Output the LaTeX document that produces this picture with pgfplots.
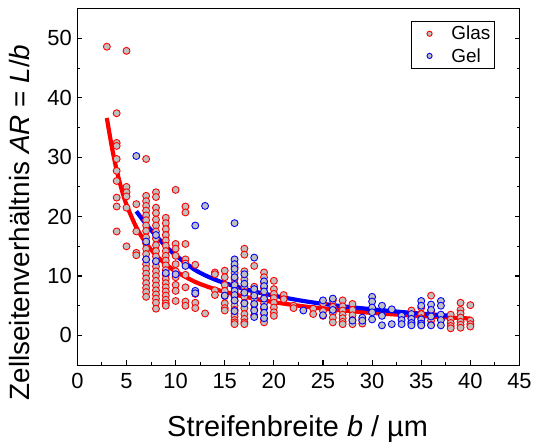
\documentclass[border=0pt]{standalone}
\usepackage{pgfplots}
\pgfplotsset{compat=1.18}
\usepackage{fontspec}
\setmainfont{Liberation Sans}
\definecolor{mfill}{RGB}{192,192,192}
\begin{document}
\begin{tikzpicture}
\begin{axis}[
  scale only axis, width=444pt, height=358pt,
  xmin=0, xmax=45, ymin=-5, ymax=55,
  xtick={0,5,...,45}, ytick={0,10,...,50},
  minor x tick num=1, minor y tick num=1,
  tick align=inside, xtick pos=bottom, ytick pos=both, yticklabel pos=left,
  major tick length=5pt, minor tick length=3pt,
  every tick/.style={black, line width=1.1pt},
  axis line style={line width=1.3pt},
  /pgf/number format/assume math mode=true,
  tick label style={font=\fontsize{22}{26}\selectfont},
  xticklabel style={yshift=-5pt},
  yticklabel style={xshift=-2pt},
  xlabel={Streifenbreite \textit{b} / µm},
  ylabel={Zellseitenverhältnis \textit{AR} = \textit{L}/\textit{b}},
  xlabel style={font=\fontsize{29}{34}\selectfont, at={(axis description cs:0.498,-0.18)}, anchor=center},
  ylabel style={font=\fontsize{28}{33}\selectfont, at={(axis description cs:-0.13,0.40)}, anchor=center},
  legend style={at={(axis description cs:0.944,0.966)}, anchor=north east,
    font=\fontsize{19}{23}\selectfont, draw=black, line width=0.8pt,
    inner xsep=2pt, inner ysep=3pt, row sep=3pt, cells={anchor=west}},
  legend image code/.code={\path[draw=none] (0pt,0pt) (36pt,0pt);
    \draw[#1, only marks, mark size=2.6pt, mark repeat=2, mark phase=2] plot coordinates {(0pt,0pt)(16pt,0pt)(32pt,0pt)};},
]
\addplot[only marks, mark=*, mark size=3.5pt, mark options={draw=red, fill=mfill, line width=0.9pt}] coordinates {
(3,48.6)
(4,37.4)(4,32.4)(4,31.9)(4,29.7)(4,27.7)(4,26.0)(4,23.2)(4,21.7)(4,17.5)
(5,47.9)(5,25.0)(5,24.1)(5,23.4)(5,21.5)(5,15.0)
(6,22.1)(6,17.5)(6,13.9)(6,13.5)
(7,29.7)(7,23.5)(7,22.6)(7,21.8)(7,21.0)(7,20.2)(7,19.4)(7,18.5)(7,17.6)(7,16.5)(7,15.5)(7,14.6)(7,13.7)(7,12.8)(7,12.0)(7,11.2)(7,10.4)(7,9.6)(7,8.8)(7,8.0)(7,7.3)(7,6.5)
(8,24.1)(8,23.3)(8,21.5)(8,20.6)(8,19.5)(8,18.5)(8,17.5)(8,16.3)(8,15.2)(8,14.2)(8,13.3)(8,12.4)(8,11.6)(8,10.8)(8,10.0)(8,9.2)(8,8.4)(8,7.6)(8,6.9)(8,6.2)(8,5.5)(8,4.5)
(9,19.8)(9,18.9)(9,17.9)(9,16.9)(9,16.0)(9,15.1)(9,14.2)(9,13.4)(9,12.6)(9,11.8)(9,11.0)(9,10.2)(9,9.5)(9,8.8)(9,8.1)(9,7.4)(9,6.7)(9,6.0)(9,5.4)(9,5.0)
(10,24.5)(10,15.4)(10,14.6)(10,13.4)(10,12.0)(10,10.8)(10,9.8)(10,8.5)(10,7.5)(10,5.8)
(11,21.7)(11,20.7)(11,15.4)(11,12.8)(11,12.1)(11,10.2)(11,8.1)(11,5.7)(11,5.0)
(12,11.9)(12,7.0)(12,5.5)(12,4.6)
(13,3.7)
(14,10.6)(14,10.3)(14,7.6)(14,6.8)
(15,10.9)(15,9.8)(15,8.5)(15,7.5)(15,6.6)(15,5.4)(15,4.6)(15,4.2)
(16,11.5)(16,10.5)(16,9.5)(16,8.7)(16,8.0)(16,7.2)(16,6.5)(16,5.8)(16,5.0)(16,4.3)(16,3.7)(16,3.2)(16,2.6)(16,2.2)(16,1.9)
(17,14.6)(17,13.6)(17,10.8)(17,9.4)(17,8.2)(17,7.3)(17,6.5)(17,5.5)(17,4.6)(17,3.6)(17,2.8)(17,2.2)(17,1.9)
(18,11.7)(18,8.2)(18,7.0)(18,6.2)(18,5.2)(18,4.3)(18,3.4)
(19,10.6)(19,9.8)(19,8.9)(19,8.0)(19,7.2)(19,6.3)(19,5.4)(19,4.5)(19,3.6)(19,2.7)(19,2.2)
(20,9.2)(20,7.8)(20,7.0)(20,6.3)(20,5.5)(20,4.7)(20,3.9)(20,3.3)
(21,6.8)(21,6.1)
(22,5.0)(22,4.6)
(24,4.5)(24,3.6)
(25,5.4)(25,4.1)(25,3.3)
(26,5.9)(26,4.8)(26,3.8)(26,3.0)(26,2.2)
(27,5.9)(27,4.9)(27,4.2)(27,3.5)(27,2.9)(27,2.3)(27,1.9)
(28,5.3)(28,4.3)(28,3.4)(28,2.6)(28,1.9)
(29,2.6)(29,2.0)
(34,4.2)(34,3.4)(34,2.9)(34,2.3)(34,1.9)
(35,4.7)(35,3.6)(35,2.9)(35,2.3)(35,1.7)
(36,6.7)(36,4.1)(36,3.4)(36,2.5)(36,1.8)
(38,3.5)(38,2.7)(38,2.1)(38,1.6)(38,1.2)
(39,5.5)(39,4.3)(39,3.7)(39,3.0)(39,2.3)(39,1.8)(39,1.3)
(40,5.1)(40,2.5)(40,1.9)(40,1.5)
};
\addlegendentry{Glas}
\addplot[only marks, mark=*, mark size=3.5pt, mark options={draw=blue, fill=mfill, line width=0.9pt}] coordinates {
(6,30.2)(7,15.8)(7,12.8)(8,16.9)(8,12.5)(9,10.5)(10,10.3)(11,11.7)(12,18.5)(12,7.5)(12,7.1)(13,21.8)(15,6.7)
(16,18.9)(16,12.8)(16,12.0)(16,11.2)(16,9.8)(16,8.5)(16,7.5)(16,6.8)(16,5.9)(16,4.1)
(17,10.3)(17,8.7)(17,7.2)(17,5.4)
(18,13.1)(18,7.8)(18,6.7)(18,5.3)(18,4.2)(18,3.1)
(19,9.1)(19,8.3)(19,7.4)(19,6.2)(19,4.8)(19,3.8)(19,2.9)
(23,4.2)
(25,5.9)(25,3.4)
(26,6.2)(26,4.3)
(28,2.5)
(29,3.0)(29,2.5)
(30,6.5)(30,5.7)(30,4.7)(30,3.9)(30,2.7)
(31,5.0)(31,3.3)(31,1.7)
(32,4.4)(32,1.9)
(33,3.3)(33,2.6)(33,1.9)
(34,3.6)(34,2.8)(34,2.1)(34,1.7)
(35,5.8)(35,5.0)(35,2.7)(35,2.0)(35,1.7)
(36,5.2)(36,4.3)(36,3.2)(36,1.7)
(37,5.8)(37,5.0)(37,3.5)(37,2.6)(37,1.7)
};
\addlegendentry{Gel}
\addplot[red, line width=4.2pt, smooth, forget plot] coordinates {
(3,36.6)(3.5,31.8)(4,27.8)(4.5,24.6)(5,22.0)(6,18.2)(7,15.5)(8,13.5)(9,12.0)(10,10.8)(12,9.0)(14,7.8)(16,6.9)(18,6.2)(20,5.6)(23,4.9)(26,4.35)(30,3.8)(34,3.35)(38,3.0)(40,2.85)
};
\addplot[blue, line width=4.2pt, smooth, forget plot] coordinates {
(6,20.9)(7,18.7)(8,16.8)(9,15.0)(10,13.5)(12,11.0)(14,9.4)(16,8.3)(18,7.4)(20,6.7)(23,5.8)(26,5.1)(30,4.4)(34,3.8)(38,3.3)
};
\end{axis}
\path ([shift={(-77.7pt,-74.3pt)}]current axis.south west) rectangle ++(535pt,441pt);
\end{tikzpicture}
\end{document}
